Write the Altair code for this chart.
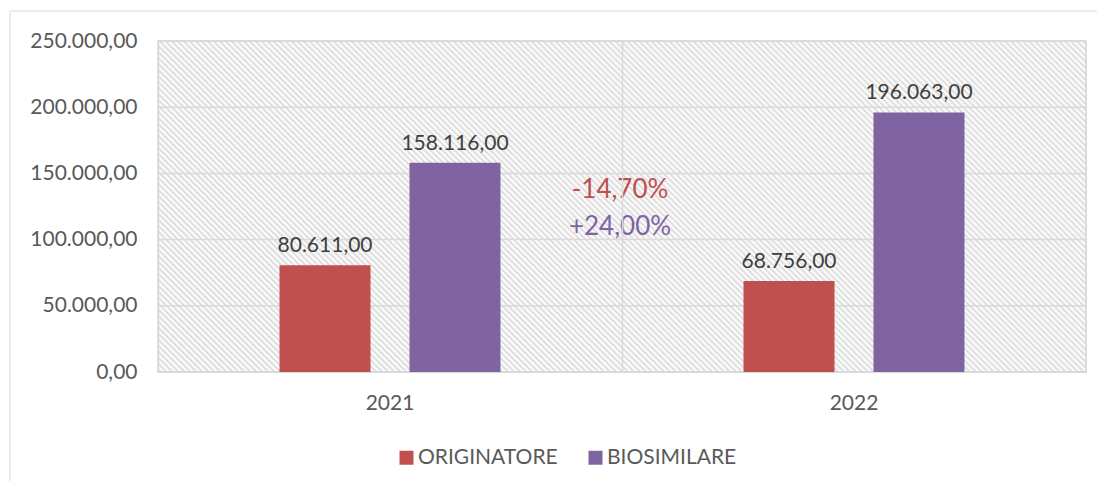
import altair as alt
import pandas as pd

# ---- data ----
years = ["2021", "2022"]
series = ["ORIGINATORE", "BIOSIMILARE"]
originatore = [80611.00, 68756.00]
biosimilare = [158116.00, 196063.00]
colors = ["#c0504d", "#8064a2"]
y_ticks = [0, 50000, 100000, 150000, 200000, 250000]
notes = ["-14,70%", "+24,00%"]

rows = []
for i, yr in enumerate(years):
    rows.append({"year": yr, "series": series[0], "value": originatore[i]})
    rows.append({"year": yr, "series": series[1], "value": biosimilare[i]})
df = pd.DataFrame(rows)

W, H = 928, 331
FONT = "Lato"

# diagonal hatch as a striped linear gradient
r = H / W
k = (1 + r) / (1 + r * r)
N = 210
stops = []
for i in range(N):
    stops.append(alt.GradientStop(offset=i / N, color="#ffffff"))
    stops.append(alt.GradientStop(offset=(i + 0.38) / N, color="#dedede"))
    stops.append(alt.GradientStop(offset=(i + 0.52) / N, color="#dedede"))
    stops.append(alt.GradientStop(offset=(i + 0.9) / N, color="#ffffff"))
hatch_fill = alt.LinearGradient(
    gradient="linear", x1=0, y1=1, x2=k, y2=1 - k * r, stops=stops
)

one = pd.DataFrame({"a": [0]})

fmt = "replace(replace(replace(format(datum.value, ',.2f'), ',', '#'), '.', ','), '#', '.')"

yscale = alt.Scale(domain=[0, 250000], nice=False, zero=True)
yaxis = alt.Axis(
    title=None, values=y_ticks, ticks=False, domain=False, grid=False,
    labelExpr=fmt, labelFont=FONT, labelFontSize=21, labelColor="#595959",
    labelPadding=21,
)

frame = alt.Chart(one).mark_rect(fill="transparent", stroke="#d9d9d9", strokeWidth=1).encode(
    x=alt.value(-148), x2=alt.value(1100), y=alt.value(-30), y2=alt.value(600)
)

hatch = alt.Chart(one).mark_rect(fill=hatch_fill, stroke="#d9d9d9", strokeWidth=1.5).encode(
    x=alt.value(0), x2=alt.value(W), y=alt.value(0), y2=alt.value(H)
)

grid = alt.Chart(pd.DataFrame({"value": y_ticks})).mark_rule(color="#d9d9d9", strokeWidth=1.5).encode(
    y=alt.Y("value:Q", scale=yscale, axis=yaxis)
)

base = alt.Chart(df).encode(
    x=alt.X(
        "year:N",
        sort=years,
        scale=alt.Scale(paddingInner=0, paddingOuter=0),
        axis=alt.Axis(
            title=None, labelAngle=0, ticks=False, domain=False,
            grid=True, gridColor="#d9d9d9", gridWidth=1.5, bandPosition=0, zindex=1,
            labelFont=FONT, labelFontSize=21, labelColor="#595959", labelPadding=20,
        ),
    ),
    xOffset=alt.XOffset(
        "series:N", sort=series, scale=alt.Scale(paddingInner=0.3, paddingOuter=0.935)
    ),
    y=alt.Y("value:Q", scale=yscale, axis=yaxis),
)

bars = base.mark_bar(size=91).encode(
    color=alt.Color(
        "series:N",
        sort=series,
        scale=alt.Scale(domain=series, range=colors),
        legend=alt.Legend(
            title=None, orient="none", direction="horizontal",
            legendX=238, legendY=406,
            symbolType="square", symbolSize=196, symbolStrokeWidth=0,
            labelFont=FONT, labelFontSize=21, labelColor="#595959",
            labelOffset=1, columnPadding=27,
        ),
    )
)

labels = base.transform_calculate(lbl=fmt).mark_text(
    baseline="bottom", dy=-9, font=FONT, fontSize=21, color="#404040"
).encode(text="lbl:N")

note1 = alt.Chart(one).mark_text(
    font=FONT, fontSize=26, color=colors[0], align="center", baseline="middle"
).encode(x=alt.value(462), y=alt.value(149), text=alt.value(notes[0]))
note2 = alt.Chart(one).mark_text(
    font=FONT, fontSize=26, color=colors[1], align="center", baseline="middle"
).encode(x=alt.value(462), y=alt.value(186), text=alt.value(notes[1]))

chart = alt.layer(frame, hatch, grid, bars, labels, note1, note2).properties(
    width=W,
    height=H,
    autosize=alt.AutoSizeParams(type="none"),
    padding={"left": 150, "top": 33, "right": 11, "bottom": 109},
).configure_view(stroke=None).configure(background="white")

chart.save("out.html", embed_options={"renderer": "svg", "actions": False})
